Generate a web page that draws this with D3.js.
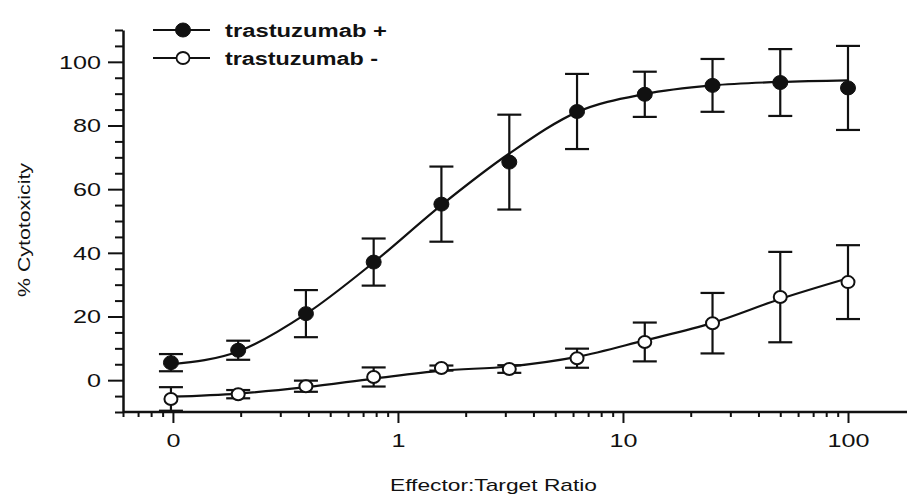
<!DOCTYPE html>
<html>
<head>
<meta charset="utf-8">
<script src="https://cdn.jsdelivr.net/npm/d3@7"></script>
<style>
  body { margin: 0; background: #fff; }
  text { font-family: "Liberation Sans", Arial, sans-serif; fill: #111; }
</style>
</head>
<body>
<div id="chart"></div>
<script>
// effector:target ratios (two-fold dilution from 100)
var ratios = [0.098, 0.195, 0.39, 0.78, 1.56, 3.125, 6.25, 12.5, 25, 50, 100];

var plusMean = [5.5, 9.4, 20.9, 37.1, 55.3, 68.5, 84.4, 89.8, 92.6, 93.5, 91.8];
var plusSd = [2.7, 3.0, 7.4, 7.4, 11.8, 14.9, 11.8, 7.1, 8.3, 10.5, 13.2];
var plusFit = [5, 9, 20.8, 37, 55, 71.2, 84.2, 89.9, 92.6, 93.7, 94.2];

var minusMean = [-5.9, -4.4, -1.9, 1.0, 3.8, 3.5, 6.9, 12.0, 17.9, 26.1, 30.8];
var minusSd = [3.7, 1.3, 1.75, 3.0, 0.8, 1.2, 3.0, 6.1, 9.5, 14.2, 11.6];
var minusFit = [-5.2, -4.2, -2.2, 0.5, 3, 4.3, 7.3, 12.5, 18, 25.5, 32];

var xMajor = [0.1, 1, 10, 100];
var xMajorLabels = ["0", "1", "10", "100"];
var xMinor = [0.06, 0.07, 0.08, 0.09, 0.2, 0.3, 0.4, 0.5, 0.6, 0.7, 0.8, 0.9,
    2, 3, 4, 5, 6, 7, 8, 9, 20, 30, 40, 50, 60, 70, 80, 90];
var yMajor = [0, 20, 40, 60, 80, 100];
var yMinor = [-10, -5, 5, 10, 15, 25, 30, 35, 45, 50, 55, 65, 70, 75, 85, 90, 95, 105, 110];

var seriesNames = ["trastuzumab +", "trastuzumab -"];

var width = 907, height = 496;
var stretch = 1.4;

var svg = d3.select("#chart")
    .append("svg")
    .attr("width", width)
    .attr("height", height);

svg.append("rect").attr("width", width).attr("height", height).attr("fill", "#fff");

var x = d3.scaleLog().domain([0.06, 100]).range([123, 848]);
var y = d3.scaleLinear().domain([-10, 110]).range([412, 30]);

// y axis
var yAxisMinor = svg.append("g")
    .attr("transform", "translate(123,0)")
    .call(d3.axisLeft(y).tickValues(yMinor).tickSize(8).tickSizeOuter(0).tickFormat(""));
var yAxis = svg.append("g")
    .attr("transform", "translate(123,0)")
    .call(d3.axisLeft(y).tickValues(yMajor).tickSize(15).tickSizeOuter(0));
yAxisMinor.select(".domain").remove();
yAxis.select(".domain").attr("stroke-width", 2.5).attr("stroke", "#111");
yAxis.selectAll("text")
    .attr("x", 0)
    .attr("dy", "0.36em")
    .attr("text-anchor", "end")
    .attr("transform", "translate(-22,0) scale(" + stretch + ",1)")
    .style("font-size", "18px");

// x axis
svg.append("line")
    .attr("x1", 123).attr("x2", width)
    .attr("y1", 412).attr("y2", 412)
    .attr("stroke", "#111").attr("stroke-width", 2.5);
var xAxisMinor = svg.append("g")
    .attr("transform", "translate(0,412)")
    .call(d3.axisBottom(x).tickValues(xMinor).tickSize(5).tickSizeOuter(0).tickFormat(""));
var xAxis = svg.append("g")
    .attr("transform", "translate(0,412)")
    .call(d3.axisBottom(x).tickValues(xMajor).tickSize(11).tickSizeOuter(0)
        .tickFormat(function (d, i) { return xMajorLabels[i]; }));
xAxisMinor.select(".domain").remove();
xAxis.select(".domain").remove();
xAxis.selectAll("text")
    .attr("y", 0)
    .attr("dy", 0)
    .attr("transform", "translate(0,35) scale(" + stretch + ",1)")
    .style("font-size", "18px");

svg.selectAll(".tick line").attr("stroke", "#111").attr("stroke-width", 2);

// axis titles
svg.append("text")
    .attr("x", 390)
    .attr("y", 491)
    .attr("textLength", 207)
    .attr("lengthAdjust", "spacingAndGlyphs")
    .style("font-size", "17px")
    .text("Effector:Target Ratio");

svg.append("text")
    .attr("transform", "translate(30,230) rotate(-90)")
    .attr("text-anchor", "middle")
    .attr("textLength", 134)
    .attr("lengthAdjust", "spacingAndGlyphs")
    .style("font-size", "16px")
    .text("% Cytotoxicity");

// fitted curves
var line = d3.line()
    .x(function (d) { return x(d[0]); })
    .y(function (d) { return y(d[1]); })
    .curve(d3.curveMonotoneX);

[plusFit, minusFit].forEach(function (fit) {
    svg.append("path")
        .datum(ratios.map(function (r, i) { return [r, fit[i]]; }))
        .attr("d", line)
        .attr("fill", "none")
        .attr("stroke", "#111")
        .attr("stroke-width", 2.2);
});

// error bars and points
function drawSeries(means, sds, filled) {
    var data = ratios.map(function (r, i) {
        return { r: r, m: means[i], lo: Math.max(means[i] - sds[i], -10), hi: means[i] + sds[i] };
    });
    var g = svg.append("g");
    var bars = g.selectAll(".bar").data(data).enter().append("g");
    bars.append("line")
        .attr("x1", function (d) { return x(d.r); })
        .attr("x2", function (d) { return x(d.r); })
        .attr("y1", function (d) { return y(d.lo); })
        .attr("y2", function (d) { return y(d.hi); })
        .attr("stroke", "#111").attr("stroke-width", 2.2);
    ["lo", "hi"].forEach(function (k) {
        bars.append("line")
            .attr("x1", function (d) { return x(d.r) - 12; })
            .attr("x2", function (d) { return x(d.r) + 12; })
            .attr("y1", function (d) { return y(d[k]); })
            .attr("y2", function (d) { return y(d[k]); })
            .attr("stroke", "#111").attr("stroke-width", 2.2);
    });
    g.selectAll("ellipse").data(data).enter().append("ellipse")
        .attr("cx", function (d) { return x(d.r); })
        .attr("cy", function (d) { return y(d.m); })
        .attr("rx", filled ? 7.5 : 6.5)
        .attr("ry", filled ? 7 : 6)
        .attr("fill", filled ? "#111" : "#fff")
        .attr("stroke", "#111")
        .attr("stroke-width", filled ? 1 : 2);
}
drawSeries(plusMean, plusSd, true);
drawSeries(minusMean, minusSd, false);

// legend
var legendRows = [
    { name: seriesNames[0], filled: true, y: 30, len: 162 },
    { name: seriesNames[1], filled: false, y: 58, len: 153 }
];
legendRows.forEach(function (row) {
    svg.append("line")
        .attr("x1", 153).attr("x2", 210)
        .attr("y1", row.y).attr("y2", row.y)
        .attr("stroke", "#111").attr("stroke-width", 2);
    svg.append("ellipse")
        .attr("cx", 183).attr("cy", row.y)
        .attr("rx", row.filled ? 7.5 : 6.5).attr("ry", row.filled ? 7 : 6)
        .attr("fill", row.filled ? "#111" : "#fff")
        .attr("stroke", "#111").attr("stroke-width", row.filled ? 1 : 1.8);
    svg.append("text")
        .attr("x", 225).attr("y", row.y + 7)
        .attr("textLength", row.len)
        .attr("lengthAdjust", "spacingAndGlyphs")
        .style("font-size", "18px")
        .style("font-weight", "bold")
        .text(row.name);
});
</script>
</body>
</html>
